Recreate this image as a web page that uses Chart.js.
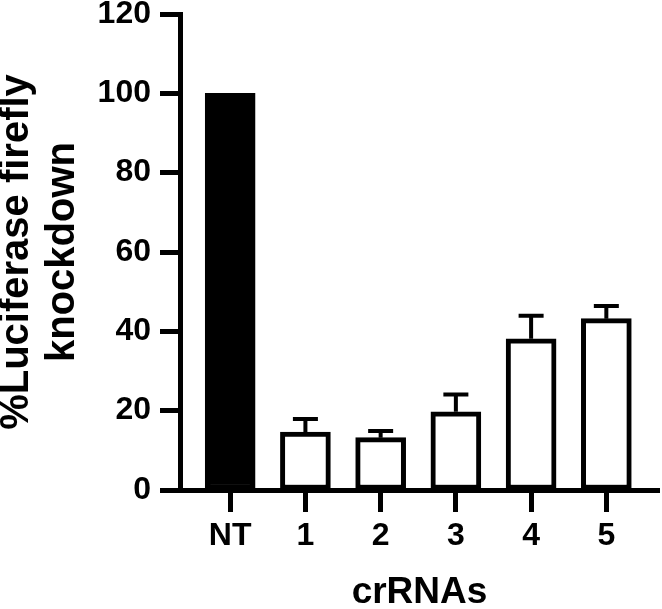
<!DOCTYPE html>
<html>
<head>
<meta charset="utf-8">
<script src="https://cdn.jsdelivr.net/npm/chart.js@4.4.1/dist/chart.umd.min.js"></script>
<style>
  html, body { margin: 0; padding: 0; background: #fff; }
  #wrap { width: 662px; height: 609px; }
</style>
</head>
<body>
<div id="wrap"><canvas id="knockdownChart"></canvas></div>
<script>
// Values
const categories = ['NT', '1', '2', '3', '4', '5'];
const knockdown = [100, 14.6, 13.2, 19.7, 38.1, 43.2];
const errUpper = [0, 3.3, 1.7, 4.4, 5.8, 3.2];
const yTicks = [0, 20, 40, 60, 80, 100, 120];

const FONT = "'Liberation Sans', Arial, Helvetica, sans-serif";

// Draw upward-only error bars with a cap
const errorBars = {
    id: 'errorBars',
    afterDatasetsDraw(chart) {
        const ctx = chart.ctx;
        const xs = chart.scales.x;
        const ys = chart.scales.y;
        ctx.save();
        ctx.strokeStyle = '#000';
        ctx.lineWidth = 4;
        knockdown.forEach((v, i) => {
            if (!errUpper[i]) return;
            const x = xs.getPixelForValue(i);
            const yTop = ys.getPixelForValue(v);
            const yErr = ys.getPixelForValue(v + errUpper[i]);
            ctx.beginPath();
            ctx.moveTo(x, yTop);
            ctx.lineTo(x, yErr);
            ctx.moveTo(x - 12.5, yErr);
            ctx.lineTo(x + 12.5, yErr);
            ctx.stroke();
        });
        ctx.restore();
    }
};

new Chart(document.getElementById('knockdownChart'), {
    type: 'bar',
    data: {
        datasets: [{
            data: knockdown.map((v, i) => ({ x: i, y: v })),
            backgroundColor: knockdown.map((v, i) => i === 0 ? '#000' : '#fff'),
            borderColor: '#000',
            borderWidth: 5,
            borderSkipped: false,
            barThickness: 50
        }]
    },
    options: {
        responsive: true,
        maintainAspectRatio: false,
        animation: false,
        layout: { padding: { top: 14, right: 3, bottom: 0, left: 0 } },
        plugins: {
            legend: { display: false },
            tooltip: { enabled: false }
        },
        scales: {
            x: {
                type: 'linear',
                offset: false,
                min: -0.667,
                max: 5.7,
                afterBuildTicks: scale => {
                    scale.ticks = categories.map((c, i) => ({ value: i }));
                },
                afterFit: scale => {
                    scale.height = 119;
                    scale.paddingLeft = 0;
                    scale.paddingRight = 0;
                },
                ticks: {
                    color: '#000',
                    font: { family: FONT, size: 32, weight: 'bold' },
                    padding: 5,
                    maxRotation: 0,
                    callback: value => categories[value]
                },
                grid: {
                    offset: false,
                    drawOnChartArea: false,
                    drawTicks: true,
                    tickLength: 22,
                    tickWidth: 5,
                    tickColor: '#000'
                },
                border: { display: true, color: '#000', width: 5 },
                title: {
                    display: true,
                    text: 'crRNAs',
                    color: '#000',
                    font: { family: FONT, size: 37, weight: 'bold' },
                    padding: { top: 0, bottom: -6 }
                }
            },
            y: {
                min: 0,
                max: 120,
                afterBuildTicks: scale => {
                    scale.ticks = yTicks.map(v => ({ value: v }));
                },
                afterFit: scale => {
                    scale.width = 180;
                    scale.paddingTop = 0;
                    scale.paddingBottom = 0;
                },
                ticks: {
                    color: '#000',
                    font: { family: FONT, size: 32, weight: 'bold' },
                    padding: 9
                },
                grid: {
                    drawOnChartArea: false,
                    drawTicks: true,
                    tickLength: 20,
                    tickWidth: 5,
                    tickColor: '#000'
                },
                border: { display: true, color: '#000', width: 5 },
                title: {
                    display: true,
                    text: ['%Luciferase firefly', 'knockdown'],
                    color: '#000',
                    font: { family: FONT, size: 40, weight: 'bold', lineHeight: 1.15 },
                    padding: { top: -6, bottom: 0 }
                }
            }
        }
    },
    plugins: [errorBars]
});
</script>
</body>
</html>
